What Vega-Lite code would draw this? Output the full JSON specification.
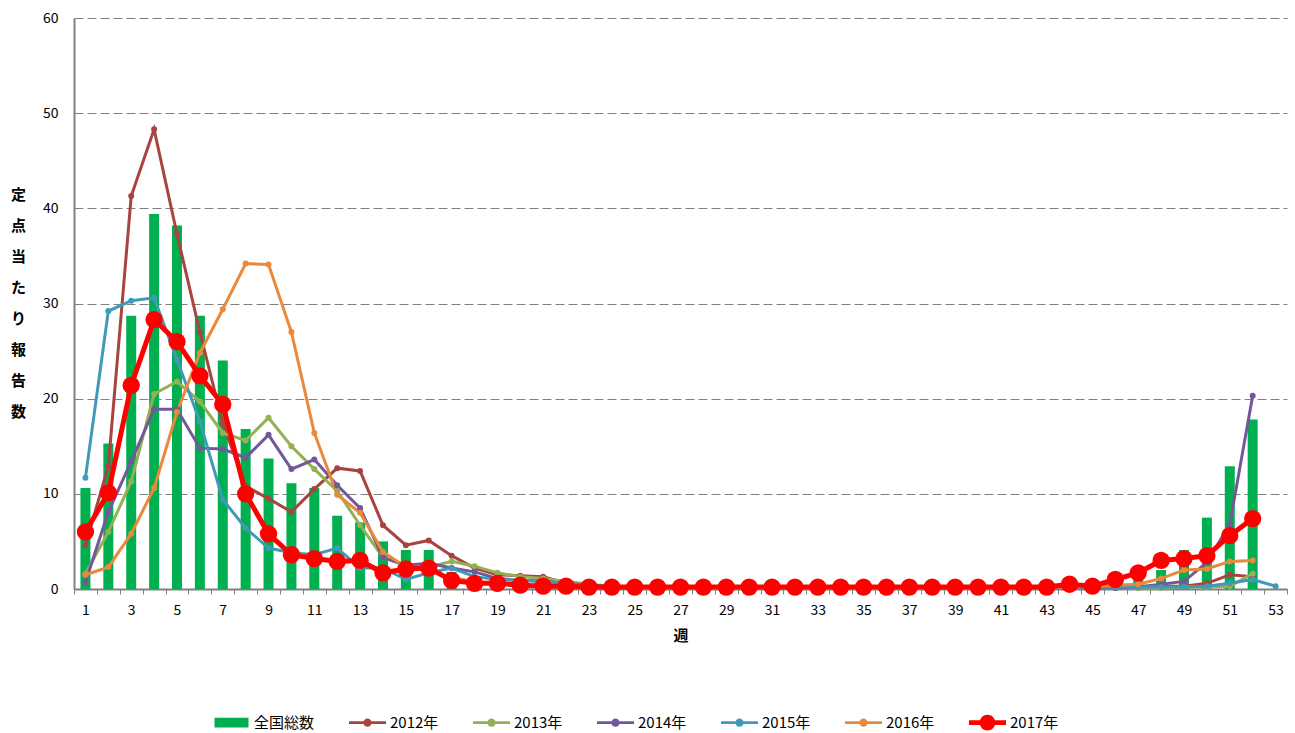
{
  "$schema": "https://vega.github.io/schema/vega-lite/v6.json",
  "width": 1213,
  "height": 571,
  "autosize": {"type": "none"},
  "padding": {"left": 74, "top": 18, "right": 8, "bottom": 144},
  "background": "white",
  "config": {
    "font": "Noto Sans CJK JP",
    "view": {"stroke": null}
  },
  "data": {
    "values": [
      {"week":1,"全国総数":10.6,"2012年":4.6,"2013年":1.6,"2014年":0.7,"2015年":11.7,"2016年":1.5,"2017年":6.0},
      {"week":2,"全国総数":15.3,"2012年":12.9,"2013年":6.0,"2014年":8.1,"2015年":29.2,"2016年":2.3,"2017年":10.1},
      {"week":3,"全国総数":28.7,"2012年":41.3,"2013年":11.3,"2014年":13.4,"2015年":30.3,"2016年":5.8,"2017年":21.4},
      {"week":4,"全国総数":39.4,"2012年":48.3,"2013年":20.5,"2014年":18.9,"2015年":30.6,"2016年":10.6,"2017年":28.3},
      {"week":5,"全国総数":38.2,"2012年":37.3,"2013年":21.8,"2014年":18.9,"2015年":24.1,"2016年":18.6,"2017年":26.0},
      {"week":6,"全国総数":28.7,"2012年":27.0,"2013年":19.7,"2014年":14.8,"2015年":17.6,"2016年":24.8,"2017年":22.4},
      {"week":7,"全国総数":24.0,"2012年":17.4,"2013年":16.4,"2014年":14.7,"2015年":9.4,"2016年":29.4,"2017年":19.4},
      {"week":8,"全国総数":16.8,"2012年":10.8,"2013年":15.6,"2014年":13.8,"2015年":6.4,"2016年":34.2,"2017年":10.0},
      {"week":9,"全国総数":13.7,"2012年":9.5,"2013年":18.0,"2014年":16.2,"2015年":4.3,"2016年":34.1,"2017年":5.8},
      {"week":10,"全国総数":11.1,"2012年":8.1,"2013年":15.0,"2014年":12.6,"2015年":3.8,"2016年":27.0,"2017年":3.6},
      {"week":11,"全国総数":10.6,"2012年":10.5,"2013年":12.6,"2014年":13.6,"2015年":3.6,"2016年":16.4,"2017年":3.2},
      {"week":12,"全国総数":7.7,"2012年":12.7,"2013年":10.3,"2014年":10.9,"2015年":4.3,"2016年":9.9,"2017年":2.9},
      {"week":13,"全国総数":7.0,"2012年":12.4,"2013年":6.7,"2014年":8.5,"2015年":2.2,"2016年":8.0,"2017年":3.0},
      {"week":14,"全国総数":5.0,"2012年":6.7,"2013年":3.3,"2014年":3.3,"2015年":2.2,"2016年":3.9,"2017年":1.7},
      {"week":15,"全国総数":4.1,"2012年":4.6,"2013年":2.5,"2014年":2.5,"2015年":1.0,"2016年":2.3,"2017年":2.1},
      {"week":16,"全国総数":4.1,"2012年":5.1,"2013年":2.3,"2014年":2.7,"2015年":1.7,"2016年":2.0,"2017年":2.2},
      {"week":17,"全国総数":1.8,"2012年":3.5,"2013年":2.9,"2014年":2.2,"2015年":2.2,"2016年":1.2,"2017年":0.9},
      {"week":18,"全国総数":1.3,"2012年":2.2,"2013年":2.4,"2014年":1.8,"2015年":1.3,"2016年":0.8,"2017年":0.6},
      {"week":19,"全国総数":1.0,"2012年":1.5,"2013年":1.7,"2014年":1.1,"2015年":1.0,"2016年":0.6,"2017年":0.6},
      {"week":20,"全国総数":0.7,"2012年":1.4,"2013年":1.3,"2014年":0.9,"2015年":0.9,"2016年":0.5,"2017年":0.4},
      {"week":21,"全国総数":0.5,"2012年":1.3,"2013年":1.1,"2014年":0.8,"2015年":0.9,"2016年":0.4,"2017年":0.3},
      {"week":22,"全国総数":0.4,"2012年":0.6,"2013年":0.8,"2014年":0.6,"2015年":0.5,"2016年":0.3,"2017年":0.3},
      {"week":23,"全国総数":0.3,"2012年":0.4,"2013年":0.5,"2014年":0.4,"2015年":0.3,"2016年":0.2,"2017年":0.2},
      {"week":24,"全国総数":0.2,"2012年":0.3,"2013年":0.3,"2014年":0.3,"2015年":0.2,"2016年":0.2,"2017年":0.2},
      {"week":25,"全国総数":0.2,"2012年":0.2,"2013年":0.2,"2014年":0.2,"2015年":0.2,"2016年":0.1,"2017年":0.2},
      {"week":26,"全国総数":0.2,"2012年":0.2,"2013年":0.1,"2014年":0.1,"2015年":0.2,"2016年":0.1,"2017年":0.2},
      {"week":27,"全国総数":0.2,"2012年":0.2,"2013年":0.1,"2014年":0.1,"2015年":0.1,"2016年":0.1,"2017年":0.2},
      {"week":28,"全国総数":0.2,"2012年":0.2,"2013年":0.1,"2014年":0.1,"2015年":0.1,"2016年":0.1,"2017年":0.2},
      {"week":29,"全国総数":0.2,"2012年":0.2,"2013年":0.1,"2014年":0.1,"2015年":0.1,"2016年":0.1,"2017年":0.2},
      {"week":30,"全国総数":0.2,"2012年":0.2,"2013年":0.1,"2014年":0.1,"2015年":0.1,"2016年":0.1,"2017年":0.2},
      {"week":31,"全国総数":0.2,"2012年":0.2,"2013年":0.1,"2014年":0.1,"2015年":0.1,"2016年":0.1,"2017年":0.2},
      {"week":32,"全国総数":0.2,"2012年":0.2,"2013年":0.1,"2014年":0.1,"2015年":0.1,"2016年":0.1,"2017年":0.2},
      {"week":33,"全国総数":0.2,"2012年":0.2,"2013年":0.1,"2014年":0.1,"2015年":0.1,"2016年":0.1,"2017年":0.2},
      {"week":34,"全国総数":0.2,"2012年":0.2,"2013年":0.1,"2014年":0.1,"2015年":0.1,"2016年":0.1,"2017年":0.2},
      {"week":35,"全国総数":0.2,"2012年":0.2,"2013年":0.1,"2014年":0.1,"2015年":0.1,"2016年":0.1,"2017年":0.2},
      {"week":36,"全国総数":0.2,"2012年":0.2,"2013年":0.1,"2014年":0.1,"2015年":0.1,"2016年":0.1,"2017年":0.2},
      {"week":37,"全国総数":0.2,"2012年":0.2,"2013年":0.1,"2014年":0.1,"2015年":0.1,"2016年":0.1,"2017年":0.2},
      {"week":38,"全国総数":0.2,"2012年":0.2,"2013年":0.1,"2014年":0.1,"2015年":0.1,"2016年":0.1,"2017年":0.2},
      {"week":39,"全国総数":0.2,"2012年":0.2,"2013年":0.1,"2014年":0.1,"2015年":0.1,"2016年":0.1,"2017年":0.2},
      {"week":40,"全国総数":0.2,"2012年":0.2,"2013年":0.1,"2014年":0.1,"2015年":0.1,"2016年":0.1,"2017年":0.2},
      {"week":41,"全国総数":0.2,"2012年":0.2,"2013年":0.1,"2014年":0.1,"2015年":0.1,"2016年":0.1,"2017年":0.2},
      {"week":42,"全国総数":0.2,"2012年":0.2,"2013年":0.1,"2014年":0.1,"2015年":0.2,"2016年":0.1,"2017年":0.2},
      {"week":43,"全国総数":0.2,"2012年":0.2,"2013年":0.1,"2014年":0.1,"2015年":0.2,"2016年":0.2,"2017年":0.2},
      {"week":44,"全国総数":0.3,"2012年":0.2,"2013年":0.1,"2014年":0.1,"2015年":0.2,"2016年":0.2,"2017年":0.5},
      {"week":45,"全国総数":0.4,"2012年":0.3,"2013年":0.1,"2014年":0.1,"2015年":0.2,"2016年":0.3,"2017年":0.3},
      {"week":46,"全国総数":0.6,"2012年":0.3,"2013年":0.1,"2014年":0.1,"2015年":0.2,"2016年":0.4,"2017年":1.0},
      {"week":47,"全国総数":1.0,"2012年":0.3,"2013年":0.1,"2014年":0.2,"2015年":0.2,"2016年":0.5,"2017年":1.7},
      {"week":48,"全国総数":2.0,"2012年":0.3,"2013年":0.1,"2014年":0.5,"2015年":0.2,"2016年":1.1,"2017年":3.0},
      {"week":49,"全国総数":4.1,"2012年":0.3,"2013年":0.2,"2014年":0.8,"2015年":0.2,"2016年":2.0,"2017年":3.2},
      {"week":50,"全国総数":7.5,"2012年":0.6,"2013年":0.2,"2014年":2.8,"2015年":0.3,"2016年":2.1,"2017年":3.5},
      {"week":51,"全国総数":12.9,"2012年":1.5,"2013年":0.3,"2014年":6.8,"2015年":0.6,"2016年":2.9,"2017年":5.6},
      {"week":52,"全国総数":17.8,"2012年":1.3,"2013年":1.6,"2014年":20.3,"2015年":1.0,"2016年":3.0,"2017年":7.4},
      {"week":53,"全国総数":null,"2012年":null,"2013年":null,"2014年":null,"2015年":0.3,"2016年":null,"2017年":null}
    ]
  },
  "transform": [
    {"fold": ["全国総数","2012年","2013年","2014年","2015年","2016年","2017年"], "as": ["series","value"]},
    {"filter": "datum.value != null"}
  ],
  "encoding": {
    "x": {
      "field": "week",
      "type": "ordinal",
      "scale": {"paddingInner": 0, "paddingOuter": 0},
      "axis": {
        "title": "週",
        "titleFontSize": 15,
        "titleFontWeight": "bold",
        "titleColor": "black",
        "titlePadding": 11,
        "labelAngle": 0,
        "labelExpr": "datum.value % 2 === 1 ? datum.label : ''",
        "tickBand": "extent",
        "tickSize": 5,
        "tickColor": "#808080",
        "domainColor": "#808080",
        "domainWidth": 2,
        "labelPadding": 9,
        "labelFontSize": 14,
        "labelColor": "black",
        "grid": false
      }
    },
    "y": {
      "field": "value",
      "type": "quantitative",
      "scale": {"domain": [0, 60]},
      "axis": {
        "values": [0, 10, 20, 30, 40, 50, 60],
        "grid": true,
        "gridDash": [9, 4],
        "gridColor": "#808080",
        "gridWidth": 1,
        "ticks": false,
        "domainColor": "#808080",
        "domainWidth": 2,
        "labelPadding": 16,
        "labelFontSize": 14,
        "labelColor": "black",
        "title": ["定","点","当","た","り","報","告","数"],
        "titleAngle": 0,
        "titleX": -56,
        "titleY": 176,
        "titleAlign": "center",
        "titleBaseline": "middle",
        "titleLineHeight": 31,
        "titleFontSize": 15,
        "titleFontWeight": "bold",
        "titleColor": "black"
      }
    },
    "color": {
      "field": "series",
      "type": "nominal",
      "scale": {
        "domain": ["全国総数","2012年","2013年","2014年","2015年","2016年","2017年"],
        "range": ["#00B050","#A8443F","#93B052","#74579A","#4099B8","#E8893B","#FF0000"]
      },
      "legend": {
        "orient": "none",
        "legendX": 139,
        "legendY": 686,
        "direction": "horizontal",
        "title": null,
        "symbolSize": 1369,
        "symbolType": "M-1,0H1",
        "labelFontSize": 15,
        "labelColor": "black",
        "labelOffset": 4,
        "columnPadding": 34,
        "encode": {
          "symbols": {
            "update": {
              "shape": {"signal": "(datum.value === '全国総数' ? 'M0,-0.5M0,0.5M-0.92,-0.27H0.92V0.27H-0.92Z' : (datum.value === '2017年' ? 'M0,-0.5M0,0.5M-1,-0.13H1V0.13H-1ZM-0.42,0A0.42,0.42 0 1 1 0.42,0A0.42,0.42 0 1 1 -0.42,0Z' : 'M0,-0.5M0,0.5M-1,-0.08H1V0.08H-1ZM-0.22,0A0.22,0.22 0 1 1 0.22,0A0.22,0.22 0 1 1 -0.22,0Z'))"},
              "fill": {"scale": "color", "field": "value"},
              "stroke": {"value": "transparent"},
              "strokeWidth": {"value": 0},
              "opacity": {"value": 1}
            }
          }
        }
      }
    }
  },
  "layer": [
    {
      "transform": [{"filter": "datum.series === '全国総数'"}],
      "mark": {"type": "bar", "size": 10}
    },
    {
      "transform": [{"filter": "datum.series !== '全国総数' && datum.series !== '2017年'"}],
      "mark": {"type": "line", "strokeWidth": 3, "point": {"filled": true, "size": 36}}
    },
    {
      "transform": [{"filter": "datum.series === '2017年'"}],
      "mark": {"type": "line", "strokeWidth": 5, "point": {"filled": true, "size": 300}}
    }
  ]
}
